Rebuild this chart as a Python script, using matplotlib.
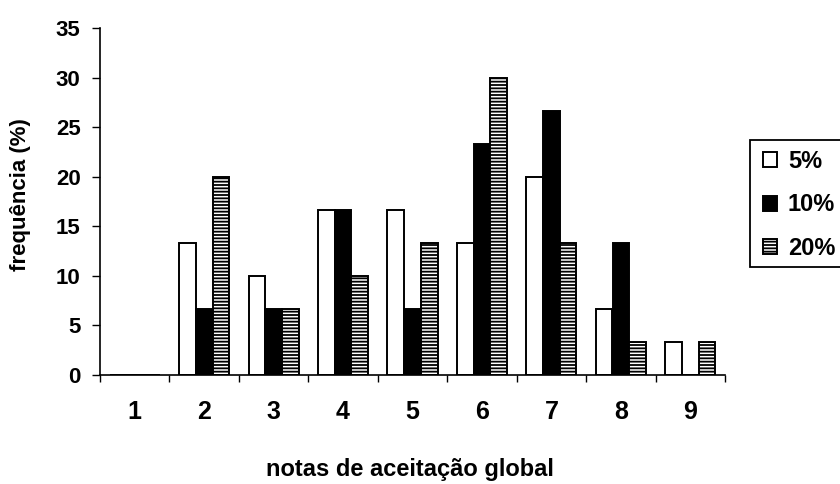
import matplotlib
matplotlib.use("Agg")
import matplotlib.pyplot as plt
from matplotlib.patches import Rectangle
import numpy as np

# Acceptance scores and frequency (%) per concentration
notas = [1, 2, 3, 4, 5, 6, 7, 8, 9]
series_labels = ["5%", "10%", "20%"]
freq_5 = [0, 13.3, 10.0, 16.7, 16.7, 13.3, 20.0, 6.7, 3.3]
freq_10 = [0, 6.7, 6.7, 16.7, 6.7, 23.3, 26.7, 13.3, 0]
freq_20 = [0, 20.0, 6.7, 10.0, 13.3, 30.0, 13.3, 3.3, 3.3]
y_ticks = [0, 5, 10, 15, 20, 25, 30, 35]

plt.rcParams["font.family"] = ["Liberation Sans", "DejaVu Sans"]
plt.rcParams["font.weight"] = "bold"
plt.rcParams["hatch.linewidth"] = 1.3
plt.rcParams["hatch.color"] = "black"

W, H = 840, 484
fig = plt.figure(figsize=(W / 100, H / 100), dpi=100)
ax = fig.add_axes([100 / W, 1 - 375 / H, 625 / W, (375 - 28.3) / H])

x = np.array(notas, dtype=float)
w = 0.24
styles = [
    dict(facecolor="white", hatch=None),
    dict(facecolor="black", hatch=None),
    dict(facecolor="white", hatch="-----"),
]
handles = []
for i, (vals, st) in enumerate(zip([freq_5, freq_10, freq_20], styles)):
    b = ax.bar(x + (i - 1) * w, vals, width=w, facecolor=st["facecolor"],
               edgecolor="black", linewidth=1.4, hatch=st["hatch"],
               label=series_labels[i], zorder=2)
    handles.append(b)

ax.set_xlim(0.5, 9.5)
ax.set_ylim(0, 35)
ax.set_yticks(y_ticks)
ax.tick_params(axis="y", direction="out", length=6, width=1, labelsize=16, pad=8)

# boundaries between categories carry the tick marks, labels sit at the centres
ax.set_xticks(np.arange(0.5, 10.0, 1.0))
ax.set_xticklabels([])
ax.set_xticks(x, minor=True)
ax.set_xticklabels([str(n) for n in notas], minor=True)
ax.tick_params(axis="x", which="major", direction="out", length=5, width=1)
ax.tick_params(axis="x", which="minor", length=0, labelsize=18, pad=18)

for s in ["top", "right"]:
    ax.spines[s].set_visible(False)
for s in ["left", "bottom"]:
    ax.spines[s].set_linewidth(1.2)

# axis titles
fig.text(21 / W, 1 - 195 / H, "frequência (%)", rotation=90, fontsize=16,
         fontweight="bold", ha="center", va="center")
fig.text(410 / W, 1 - 476 / H, "notas de aceitação global", fontsize=17,
         fontweight="bold", ha="center", va="baseline")

# legend box runs past the right edge of the figure
fig.add_artist(Rectangle((750 / W, 1 - 267 / H), 100 / W, 127 / H,
                         transform=fig.transFigure, facecolor="white",
                         edgecolor="black", linewidth=1.3, clip_on=False))
leg = fig.legend(handles=handles, labels=series_labels, loc="center left",
                 bbox_to_anchor=(763 / W, 1 - 205 / H), fontsize=17,
                 frameon=False, handlelength=0.6, handleheight=0.6,
                 handletextpad=0.45, borderpad=0, labelspacing=0.88,
                 borderaxespad=0)

fig.savefig("out.png", dpi=100)
